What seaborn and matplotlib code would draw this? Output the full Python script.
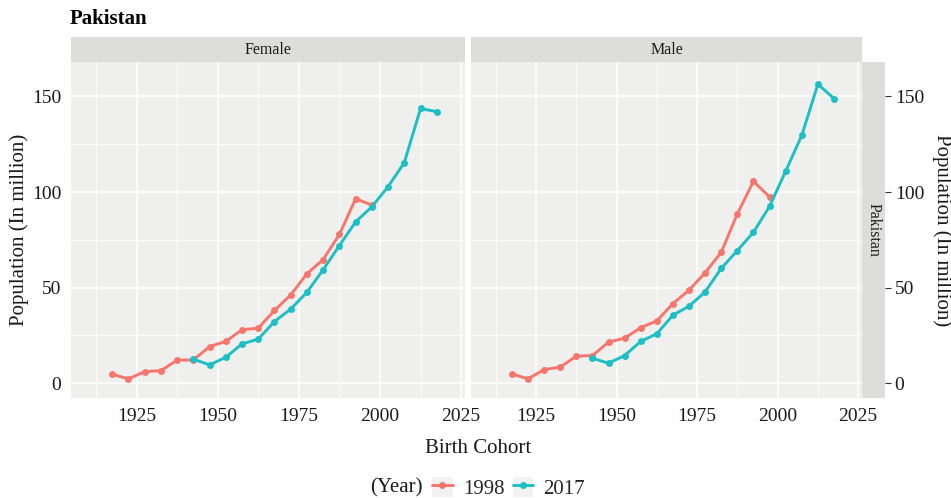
import matplotlib
matplotlib.use('Agg')
import matplotlib.pyplot as plt
import seaborn as sns
import pandas as pd
from matplotlib.lines import Line2D
from matplotlib.patches import Rectangle
from matplotlib.legend_handler import HandlerTuple

# ---------------- data ----------------
cohort_1998 = [1917.5, 1922.5, 1927.5, 1932.5, 1937.5, 1942.5, 1947.5, 1952.5, 1957.5,
               1962.5, 1967.5, 1972.5, 1977.5, 1982.5, 1987.5, 1992.5, 1997.5]
cohort_2017 = [1942.5, 1947.5, 1952.5, 1957.5, 1962.5, 1967.5, 1972.5, 1977.5,
               1982.5, 1987.5, 1992.5, 1997.5, 2002.5, 2007.5, 2012.5, 2017.5]
female_1998 = [4.7, 2.3, 6.1, 6.6, 12.1, 12.2, 19.2, 21.9, 28.0, 28.8, 38.1, 46.2, 57.3, 64.7, 77.8, 96.5, 93.2]
female_2017 = [12.6, 9.6, 13.6, 20.6, 23.1, 32.3, 38.8, 47.6, 59.4, 72.0, 84.4, 92.3, 102.8, 115.4, 143.7, 142.0]
male_1998 = [4.9, 2.3, 7.2, 8.4, 14.2, 14.5, 21.5, 23.6, 29.1, 32.6, 41.7, 48.7, 57.8, 68.5, 88.6, 105.6, 97.4]
male_2017 = [13.1, 10.5, 14.5, 21.9, 25.9, 35.6, 40.3, 47.8, 60.1, 69.4, 79.0, 92.5, 110.9, 129.6, 156.4, 148.9]
sexes = ["Female", "Male"]
years = ["1998", "2017"]
x_ticks = [1925, 1950, 1975, 2000, 2025]
y_ticks = [0, 50, 100, 150]
country = "Pakistan"

rows = []
for sex, s98, s17 in [("Female", female_1998, female_2017), ("Male", male_1998, male_2017)]:
    for c, v in zip(cohort_1998, s98):
        rows.append({"Sex": sex, "Year": "1998", "Cohort": c, "Pop": v})
    for c, v in zip(cohort_2017, s17):
        rows.append({"Sex": sex, "Year": "2017", "Cohort": c, "Pop": v})
df = pd.DataFrame(rows)

# ---------------- style ----------------
sns.set_style("white")
plt.rcParams['font.family'] = ['Liberation Serif', 'DejaVu Serif']
palette = {"1998": "#F6766E", "2017": "#1CBFC3"}
PANEL_BG = "#EFEFED"
STRIP_BG = "#DDDDDB"
TXT = "#1a1a1a"

W, H = 951, 498
fig = plt.figure(figsize=(W / 100, H / 100), dpi=100)
fig.patch.set_facecolor("white")

def fx(px):
    return px / W

def fy(py):
    return 1 - py / H

panel_top, panel_bot = 62, 398
strip_top = 37
panels = [(71, 465), (471, 862)]
xlim = (1904.8, 2026.2)
ylim = (-7.7, 168)

axes = []
for i, ((x0, x1), sex) in enumerate(zip(panels, sexes)):
    ax = fig.add_axes([fx(x0), fy(panel_bot), fx(x1 - x0), (panel_bot - panel_top) / H])
    ax.set_facecolor(PANEL_BG)
    sns.lineplot(data=df[df.Sex == sex], x="Cohort", y="Pop", hue="Year",
                 hue_order=years, palette=palette, marker="o", markersize=5,
                 markeredgewidth=0, linewidth=2.1, ax=ax, legend=False)
    ax.set_xlim(*xlim)
    ax.set_ylim(*ylim)
    ax.set_xticks(x_ticks)
    ax.set_xticks([1912.5, 1937.5, 1962.5, 1987.5, 2012.5], minor=True)
    ax.set_yticks(y_ticks)
    ax.set_yticks([25, 75, 125], minor=True)
    ax.grid(True, which="major", color="white", linewidth=1.1)
    ax.grid(True, which="minor", color="white", linewidth=0.55)
    ax.set_axisbelow(True)
    for s in ax.spines.values():
        s.set_visible(False)
    ax.tick_params(axis="both", which="major", length=4, width=0.8, color="#333333",
                   labelsize=14, labelcolor=TXT, pad=3)
    ax.tick_params(axis="both", which="minor", length=0)
    ax.set_xlabel("")
    ax.set_ylabel("")
    if i == 1:
        ax.tick_params(axis="y", which="major", left=False, labelleft=False)
    axes.append(ax)

    # top strip
    sax = fig.add_axes([fx(x0), fy(panel_top), fx(x1 - x0), (panel_top - strip_top) / H])
    sax.set_facecolor(STRIP_BG)
    sax.set_xticks([]); sax.set_yticks([])
    for s in sax.spines.values():
        s.set_visible(False)
    sax.text(0.5, 0.5, sex, ha="center", va="center", fontsize=11.5, color=TXT,
             transform=sax.transAxes)

# right strip with secondary axis
rax = fig.add_axes([fx(862), fy(panel_bot), fx(885 - 862), (panel_bot - panel_top) / H])
rax.set_facecolor(STRIP_BG)
rax.set_ylim(*ylim)
rax.set_xticks([])
rax.set_yticks(y_ticks)
rax.yaxis.tick_right()
rax.yaxis.set_label_position("right")
for s in rax.spines.values():
    s.set_visible(False)
rax.tick_params(axis="y", length=4, width=0.8, color="#333333", labelsize=14,
                labelcolor=TXT, pad=3)
rax.text(0.5, 0.5, country, ha="center", va="center", rotation=270, fontsize=11.5,
         color=TXT, transform=rax.transAxes)
rax.set_ylabel("Population (In million)", fontsize=15, color=TXT, rotation=270, labelpad=20)

axes[0].set_ylabel("Population (In million)", fontsize=15, color=TXT, labelpad=2)

fig.text(fx(478), fy(448), "Birth Cohort", ha="center", va="center", fontsize=15, color=TXT)
fig.text(fx(70), fy(19), country, ha="left", va="center", fontsize=15,
         fontweight="bold", color="black")

# legend
handles = []
for y in years:
    bg = Rectangle((0, 0), 1, 1, facecolor="#F2F2F2", edgecolor="none")
    ln = Line2D([], [], color=palette[y], marker="o", markersize=5, markeredgewidth=0,
                linewidth=2.1)
    handles.append((bg, ln))
fig.text(fx(423), fy(488), "(Year)", ha="right", va="center", fontsize=15, color=TXT)
fig.legend(handles, years, handler_map={tuple: HandlerTuple(ndivide=1)},
           loc="center left", bbox_to_anchor=(fx(430), fy(488)), ncol=2, frameon=False,
           fontsize=15, handlelength=0.98, handleheight=1.15, handletextpad=0.5,
           columnspacing=0.4, borderaxespad=0, borderpad=0.1)

fig.savefig("out.png", dpi=100, facecolor="white")
